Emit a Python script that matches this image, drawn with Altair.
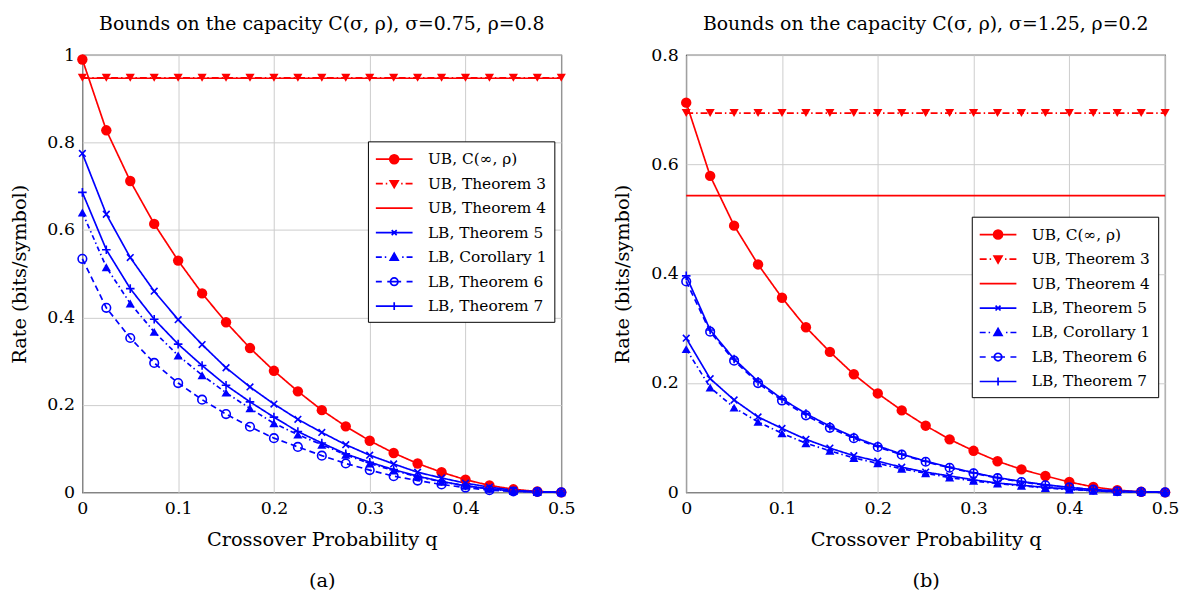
import altair as alt
import pandas as pd

Q = [0.0, 0.025, 0.05, 0.075, 0.1, 0.125, 0.15, 0.175, 0.2, 0.225, 0.25,
     0.275, 0.3, 0.325, 0.35, 0.375, 0.4, 0.425, 0.45, 0.475, 0.5]

SERIES = ["UB, C(∞, ρ)", "UB, Theorem 3", "UB, Theorem 4", "LB, Theorem 5",
          "LB, Corollary 1", "LB, Theorem 6", "LB, Theorem 7"]

# Panel (a): sigma=0.75, rho=0.8
A_UB_INF = [0.990, 0.828, 0.712, 0.614, 0.530, 0.455, 0.389, 0.330, 0.278, 0.231, 0.188,
            0.151, 0.118, 0.090, 0.066, 0.046, 0.029, 0.016, 0.007, 0.002, 0.000]
A_UB_T3 = [0.948, 0.948, 0.948, 0.948, 0.948, 0.948, 0.948, 0.948, 0.948, 0.948, 0.948,
           0.948, 0.948, 0.948, 0.948, 0.948, 0.948, 0.948, 0.948, 0.948, 0.948]
A_UB_T4 = [0.947, 0.947, 0.947, 0.947, 0.947, 0.947, 0.947, 0.947, 0.947, 0.947, 0.947,
           0.947, 0.947, 0.947, 0.947, 0.947, 0.947, 0.947, 0.947, 0.947, 0.947]
A_LB_T5 = [0.775, 0.636, 0.537, 0.460, 0.395, 0.338, 0.285, 0.241, 0.202, 0.167, 0.137,
           0.109, 0.085, 0.065, 0.046, 0.033, 0.021, 0.012, 0.005, 0.001, 0.000]
A_LB_C1 = [0.640, 0.515, 0.432, 0.367, 0.313, 0.268, 0.228, 0.192, 0.158, 0.132, 0.109,
           0.086, 0.066, 0.050, 0.036, 0.024, 0.015, 0.008, 0.003, 0.001, 0.000]
A_LB_T6 = [0.534, 0.422, 0.353, 0.296, 0.250, 0.212, 0.179, 0.150, 0.124, 0.104, 0.084,
           0.066, 0.051, 0.037, 0.027, 0.018, 0.011, 0.005, 0.002, 0.001, 0.000]
A_LB_T7 = [0.686, 0.555, 0.466, 0.396, 0.339, 0.290, 0.245, 0.207, 0.172, 0.139, 0.113,
           0.088, 0.069, 0.052, 0.037, 0.025, 0.015, 0.008, 0.003, 0.001, 0.000]

# Panel (b): sigma=1.25, rho=0.2
B_UB_INF = [0.713, 0.579, 0.488, 0.417, 0.356, 0.302, 0.257, 0.216, 0.181, 0.150, 0.122,
            0.097, 0.076, 0.057, 0.042, 0.030, 0.019, 0.010, 0.004, 0.001, 0.000]
B_UB_T3 = [0.694, 0.694, 0.694, 0.694, 0.694, 0.694, 0.694, 0.694, 0.694, 0.694, 0.694,
           0.694, 0.694, 0.694, 0.694, 0.694, 0.694, 0.694, 0.694, 0.694, 0.694]
B_UB_T4 = [0.543, 0.543, 0.543, 0.543, 0.543, 0.543, 0.543, 0.543, 0.543, 0.543, 0.543,
           0.543, 0.543, 0.543, 0.543, 0.543, 0.543, 0.543, 0.543, 0.543, 0.543]
B_LB_T5 = [0.282, 0.208, 0.169, 0.138, 0.117, 0.097, 0.081, 0.067, 0.057, 0.046, 0.037,
           0.030, 0.023, 0.017, 0.013, 0.009, 0.006, 0.003, 0.001, 0.0005, 0.000]
B_LB_C1 = [0.262, 0.192, 0.155, 0.129, 0.108, 0.090, 0.076, 0.063, 0.053, 0.043, 0.035,
           0.027, 0.021, 0.016, 0.012, 0.008, 0.005, 0.003, 0.001, 0.0005, 0.000]
B_LB_T6 = [0.386, 0.294, 0.241, 0.200, 0.168, 0.141, 0.118, 0.099, 0.083, 0.069, 0.056,
           0.045, 0.035, 0.026, 0.019, 0.013, 0.009, 0.005, 0.002, 0.001, 0.000]
B_LB_T7 = [0.396, 0.297, 0.244, 0.203, 0.171, 0.144, 0.121, 0.101, 0.085, 0.070, 0.057,
           0.046, 0.036, 0.027, 0.020, 0.014, 0.009, 0.005, 0.003, 0.001, 0.000]

X_TICKS = [0, 0.1, 0.2, 0.3, 0.4, 0.5]
A_Y_TICKS = [0, 0.2, 0.4, 0.6, 0.8, 1.0]
B_Y_TICKS = [0, 0.2, 0.4, 0.6, 0.8]

TITLE_A = "Bounds on the capacity C(σ, ρ), σ=0.75, ρ=0.8"
TITLE_B = "Bounds on the capacity C(σ, ρ), σ=1.25, ρ=0.2"
X_TITLE = "Crossover Probability q"
Y_TITLE = "Rate (bits/symbol)"

# ---- styles ----
FONT = "DejaVu Serif"
RED, BLUE = "#ff0000", "#0000ff"
COLORS = [RED, RED, RED, BLUE, BLUE, BLUE, BLUE]
DASHES = [[1, 0], [7, 3, 1.5, 3], [1, 0], [1, 0], [5, 3, 1.5, 3], [6, 4], [1, 0]]
WIDTHS = [2, 2, 2, 1.7, 1.7, 1.7, 1.7]
MARKERS = [
    ("UB, C(∞, ρ)", "circle", 110, True),
    ("UB, Theorem 3", "triangle-down", 85, True),
    ("LB, Theorem 5", "M-1,-1L1,1M-1,1L1,-1", 45, False),
    ("LB, Corollary 1", "triangle-up", 85, True),
    ("LB, Theorem 6", "circle", 75, False),
    ("LB, Theorem 7", "M-1,0H1M0,-1V1", 75, False),
]
# legend symbols: line sample + marker (no arcs), unit = 10px at symbolSize 400
CIRC_F = ("M0.45,0C0.45,0.25 0.25,0.45 0,0.45C-0.25,0.45 -0.45,0.25 -0.45,0"
          "C-0.45,-0.25 -0.25,-0.45 0,-0.45C0.25,-0.45 0.45,-0.25 0.45,0Z")
CIRC_O = ("M0.38,0C0.38,0.21 0.21,0.38 0,0.38C-0.21,0.38 -0.38,0.21 -0.38,0"
          "C-0.38,-0.21 -0.21,-0.38 0,-0.38C0.21,-0.38 0.38,-0.21 0.38,0Z")
LEG_PATHS = [
    "M-1.85,0H1.85" + CIRC_F,
    "M-1.85,0H-1.15M-0.85,0H-0.7M0.7,0H0.85M1.15,0H1.85M-0.4,-0.3L0.4,-0.3L0,0.4Z",
    "M-1.85,0H1.85",
    "M-1.85,0H1.85M-0.25,-0.25L0.25,0.25M-0.25,0.25L0.25,-0.25",
    "M-1.85,0H-1.25M-0.95,0H-0.8M0.8,0H0.95M1.25,0H1.85M-0.4,0.3L0.4,0.3L0,-0.4Z",
    "M-1.85,0H-1.25M-0.7,0H0.7M1.25,0H1.85" + CIRC_O,
    "M-1.85,0H1.85M0,-0.4V0.4",
]
LEG_FILL = [RED, RED, "transparent", "transparent", BLUE, "transparent", "transparent"]

# plot-style scales use the reversed order so they never merge with the legend
PLOT_DOMAIN = SERIES[::-1]


def long_df(cols):
    rows = []
    for name, vals in zip(SERIES, cols):
        for q, v in zip(Q, vals):
            rows.append({"q": q, "rate": v, "series": name})
    return pd.DataFrame(rows)


def panel(df, title, ymax, yticks, caption, legend_y):
    x = alt.X("q:Q", scale=alt.Scale(domain=[0, 0.5], nice=False),
              axis=alt.Axis(values=X_TICKS, format="~g", labelPadding=7, labelFlush=False,
                            title=[X_TITLE, caption], titlePadding=14,
                            titleLineHeight=41))
    y = alt.Y("rate:Q", scale=alt.Scale(domain=[0, ymax], nice=False),
              axis=alt.Axis(values=yticks, format="~g", labelPadding=8, labelFlush=False,
                            title=Y_TITLE, titlePadding=18))
    color = alt.Color("series:N", scale=alt.Scale(domain=PLOT_DOMAIN, range=COLORS[::-1]),
                      legend=None)
    base = alt.Chart(df)

    lines = base.mark_line().encode(
        x=x, y=y, color=color,
        strokeDash=alt.StrokeDash("series:N", scale=alt.Scale(domain=PLOT_DOMAIN, range=DASHES[::-1]),
                                  legend=None),
        strokeWidth=alt.StrokeWidth("series:N", scale=alt.Scale(domain=PLOT_DOMAIN, range=WIDTHS[::-1]),
                                    legend=None),
        order=alt.Order("q:Q"),
    )
    layers = [lines]
    for name, shape, size, filled in MARKERS:
        layers.append(
            base.mark_point(shape=shape, size=size, filled=filled, opacity=1,
                            strokeWidth=1.6)
            .encode(x=x, y=y, color=color)
            .transform_filter(alt.datum.series == name)
        )
    leg = alt.Legend(orient="none", legendX=288, legendY=legend_y, title=None,
                     fillColor="white", strokeColor="black", padding=7,
                     labelFont=FONT, labelFontSize=15.5, labelColor="black",
                     symbolSize=400, symbolStrokeWidth=1.7, symbolOffset=8.5,
                     symbolOpacity=1, labelOffset=23, rowPadding=4.7, cornerRadius=0)
    legend_layer = base.mark_point(opacity=1, strokeWidth=1.7).encode(
        x=x, y=y,
        shape=alt.Shape("series:N", scale=alt.Scale(domain=SERIES, range=LEG_PATHS), legend=leg),
        fill=alt.Fill("series:N", scale=alt.Scale(domain=SERIES, range=LEG_FILL), legend=leg),
        stroke=alt.Stroke("series:N", scale=alt.Scale(domain=SERIES, range=COLORS), legend=leg),
    ).transform_filter("datum.q < 0")
    layers.append(legend_layer)
    return alt.layer(*layers).properties(
        width=483, height=441,
        title=alt.TitleParams(title, font=FONT, fontSize=19, fontWeight="normal",
                              color="black", offset=12, anchor="middle"),
    )


dfa = long_df([A_UB_INF, A_UB_T3, A_UB_T4, A_LB_T5, A_LB_C1, A_LB_T6, A_LB_T7])
dfb = long_df([B_UB_INF, B_UB_T3, B_UB_T4, B_LB_T5, B_LB_C1, B_LB_T6, B_LB_T7])

chart = alt.hconcat(
    panel(dfa, TITLE_A, 1.0, A_Y_TICKS, "(a)", 87),
    panel(dfb, TITLE_B, 0.8, B_Y_TICKS, "(b)", 163),
    spacing=36,
).resolve_scale(
    shape="independent", fill="independent", stroke="independent",
    color="independent", strokeDash="independent", strokeWidth="independent",
).resolve_legend(
    shape="independent", fill="independent", stroke="independent",
).configure(padding={"left": 0, "top": 4, "right": 0, "bottom": 0}).configure_view(
    stroke="black", strokeWidth=1.2
).configure_axis(
    labelFont=FONT, labelFontSize=17.5, labelColor="black",
    titleFont=FONT, titleFontSize=19.5, titleFontWeight="normal", titleColor="black",
    gridColor="#cccccc", gridWidth=1, ticks=False, domain=False,
)

chart.save("out.html", embed_options={"renderer": "svg", "actions": False})
